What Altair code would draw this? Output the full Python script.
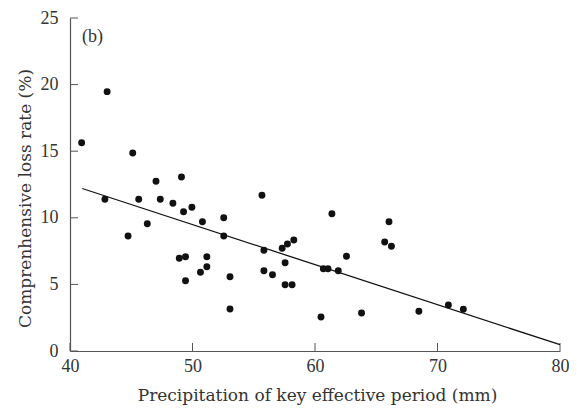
import altair as alt
import pandas as pd

precip = [40.95, 43.03, 42.85, 45.12, 44.74, 45.61, 46.31, 47.02, 47.37, 48.4,
          48.92, 49.1, 49.27, 49.43, 49.43, 49.95, 50.65, 50.81, 51.17, 51.17,
          52.55, 52.55, 53.06, 53.06, 55.67, 55.83, 55.83, 56.53, 57.32, 57.56,
          57.56, 57.75, 58.13, 58.27, 60.49, 60.68, 61.06, 61.38, 61.9, 62.57,
          63.8, 65.69, 66.04, 66.24, 68.48, 70.89, 72.11]
loss = [15.64, 19.47, 11.39, 14.86, 8.63, 11.39, 9.56, 12.74, 11.39, 11.09,
        6.96, 13.06, 10.46, 7.08, 5.28, 10.79, 5.91, 9.71, 7.08, 6.33,
        10.0, 8.63, 5.58, 3.15, 11.69, 7.56, 6.03, 5.73, 7.71, 6.63,
        4.98, 8.03, 4.98, 8.33, 2.55, 6.18, 6.18, 10.31, 6.03, 7.11,
        2.85, 8.18, 9.71, 7.86, 2.98, 3.45, 3.13]
fit_x = [41, 80]
fit_y = [12.2, 0.47]
x_ticks = [40, 50, 60, 70, 80]
y_ticks = [0, 5, 10, 15, 20, 25]
panel_label = ["(b)"]

W, H = 490, 333
FONT = "Liberation Serif"
TFONT = "DejaVu Serif"
AX = "#555555"
TXT = "#333333"

xs = alt.Scale(domain=[40, 80], nice=False, zero=False)
ys = alt.Scale(domain=[0, 25], nice=False)

x_axis = alt.Axis(values=x_ticks, title="Precipitation of key effective period (mm)",
                  ticks=False, grid=False, labelPadding=6, labelFlush=False,
                  titleX=W / 2 + 2, titleY=44, titleBaseline="middle")
y_axis = alt.Axis(values=y_ticks, title="Comprenhensive loss rate (%)",
                  ticks=False, grid=False, labelPadding=12, labelFlush=False,
                  titleX=-45, titleY=180, titleBaseline="middle", titleAngle=-90)

points = alt.Chart(pd.DataFrame({"p": precip, "l": loss})).mark_circle(
    size=48, color="#111111", opacity=1
).encode(
    x=alt.X("p:Q", scale=xs, axis=x_axis),
    y=alt.Y("l:Q", scale=ys, axis=y_axis),
)

line = alt.Chart(pd.DataFrame({"p": fit_x, "l": fit_y})).mark_line(
    color="#111111", strokeWidth=1.3
).encode(x=alt.X("p:Q", scale=xs), y=alt.Y("l:Q", scale=ys))

yt = alt.Chart(pd.DataFrame({"l": y_ticks})).mark_rule(color=AX, strokeWidth=1).encode(
    y=alt.Y("l:Q", scale=ys), x=alt.value(0), x2=alt.value(8)
)
xt = alt.Chart(pd.DataFrame({"p": x_ticks})).mark_rule(color=AX, strokeWidth=1).encode(
    x=alt.X("p:Q", scale=xs), y=alt.value(H), y2=alt.value(H - 8)
)

lab = alt.Chart(pd.DataFrame({"t": panel_label})).mark_text(
    font=FONT, fontSize=18, color=TXT, align="left", baseline="middle"
).encode(text="t:N", x=alt.value(12), y=alt.value(19))

chart = alt.layer(yt, xt, line, points, lab).properties(
    width=W, height=H,
    autosize=alt.AutoSizeParams(type="none"),
    padding={"left": 62, "top": 10, "right": 9, "bottom": 54},
).configure_view(stroke=None).configure_axis(
    domainColor=AX, domainWidth=1.2,
    labelFont=FONT, labelFontSize=18, labelColor=TXT,
    titleFont=TFONT, titleFontSize=17, titleFontWeight="normal", titleColor=TXT,
)

chart.save("out.html", embed_options={"renderer": "svg", "actions": False})
